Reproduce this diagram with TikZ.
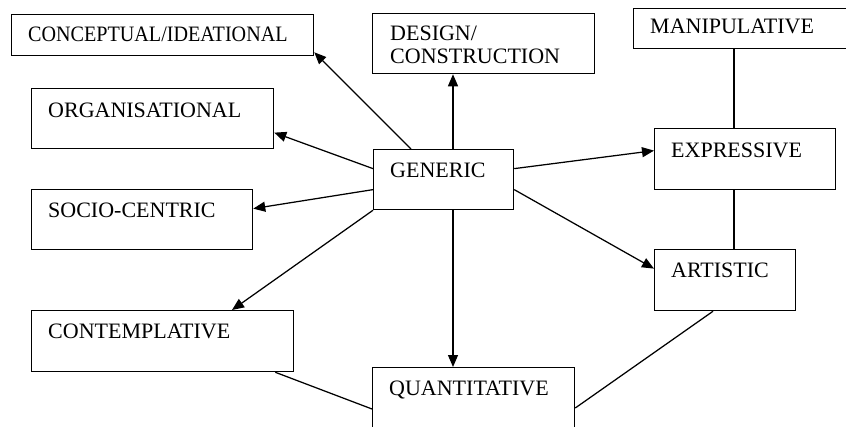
\documentclass[tikz,border=0pt]{standalone}
\usepackage{fontspec}
\setmainfont{Liberation Serif}
\usetikzlibrary{arrows.meta}
\begin{document}
\begin{tikzpicture}[x=1pt,y=-1pt,
  box/.style={draw=black,line width=1.25pt,rectangle,inner sep=0pt,anchor=north west},
  lbl/.style={anchor=base west,inner sep=0pt,font=\fontsize{22}{24}\selectfont},
  arr/.style={draw=black,line width=1.25pt,-{Triangle[length=12pt,width=10pt]}},
  link/.style={draw=black,line width=1.25pt}]
\useasboundingbox (0,0) rectangle (846,426);

% boxes
\node[box,minimum width=302pt,minimum height=41pt] (concept) at (11,14) {};
\node[box,minimum width=242pt,minimum height=60pt] (org) at (31,88) {};
\node[box,minimum width=221pt,minimum height=60pt] (socio) at (31,189) {};
\node[box,minimum width=222pt,minimum height=60pt] (design) at (372,13) {};
\node[box,minimum width=215pt,minimum height=40pt] (manip) at (633,8) {};
\node[box,minimum width=140pt,minimum height=60pt] (gen) at (373,149) {};
\node[box,minimum width=181pt,minimum height=61pt] (expr) at (654,128) {};
\node[box,minimum width=141pt,minimum height=61pt] (art) at (654,249) {};
\node[box,minimum width=262pt,minimum height=61pt] (contemp) at (31,310) {};
\node[box,minimum width=202pt,minimum height=70pt] (quant) at (372,367) {};

% labels
\node[lbl] (tconcept) at (28,41) {\scalebox{0.915}[1]{CONCEPTUAL/IDEATIONAL}};
\node[lbl] (torg) at (48,117) {ORGANISATIONAL};
\node[lbl] (tsocio) at (48,217) {SOCIO-CENTRIC};
\node[lbl] (tdesign) at (390,40) {DESIGN/};
\node[lbl] (tdesignb) at (390,63) {CONSTRUCTION};
\node[lbl] (tmanip) at (650,33) {MANIPULATIVE};
\node[lbl] (tgen) at (390,177) {GENERIC};
\node[lbl] (texpr) at (671,157) {EXPRESSIVE};
\node[lbl] (tart) at (671,277) {ARTISTIC};
\node[lbl] (tcontemp) at (48,338) {CONTEMPLATIVE};
\node[lbl] (tquant) at (389,395) {QUANTITATIVE};

% arrows out of GENERIC
\draw[arr] ([xshift=38pt]gen.north west) -- ([yshift=4pt]concept.south east);
\draw[arr] ([xshift=80pt]gen.north west) -- ([xshift=80pt]gen.north west |- design.south);
\draw[arr] ([yshift=11pt]gen.west) -- ([yshift=-14pt]org.east);
\draw[arr] ([yshift=-10pt]gen.west) -- ([yshift=11pt]socio.east);
\draw[arr] (gen.south west) -- ([xshift=201pt]contemp.north west);
\draw[arr] ([xshift=80pt]gen.south west) -- ([xshift=80pt]gen.south west |- quant.north);
\draw[arr] ([yshift=11pt]gen.east) -- ([yshift=8.5pt]expr.west);
\draw[arr] ([yshift=-10pt]gen.east) -- ([yshift=11.5pt]art.west);

% plain links
\draw[link] ([xshift=80pt]expr.north west) -- ([xshift=80pt]expr.north west |- manip.south);
\draw[link] ([xshift=80pt]art.north west) -- ([xshift=80pt]art.north west |- expr.south);
\draw[link] ([xshift=-19pt]contemp.south east) -- ([yshift=-42pt]quant.north west);
\draw[link] ([xshift=59pt]art.south west) -- ([yshift=-41pt]quant.north east);
\end{tikzpicture}
\end{document}
